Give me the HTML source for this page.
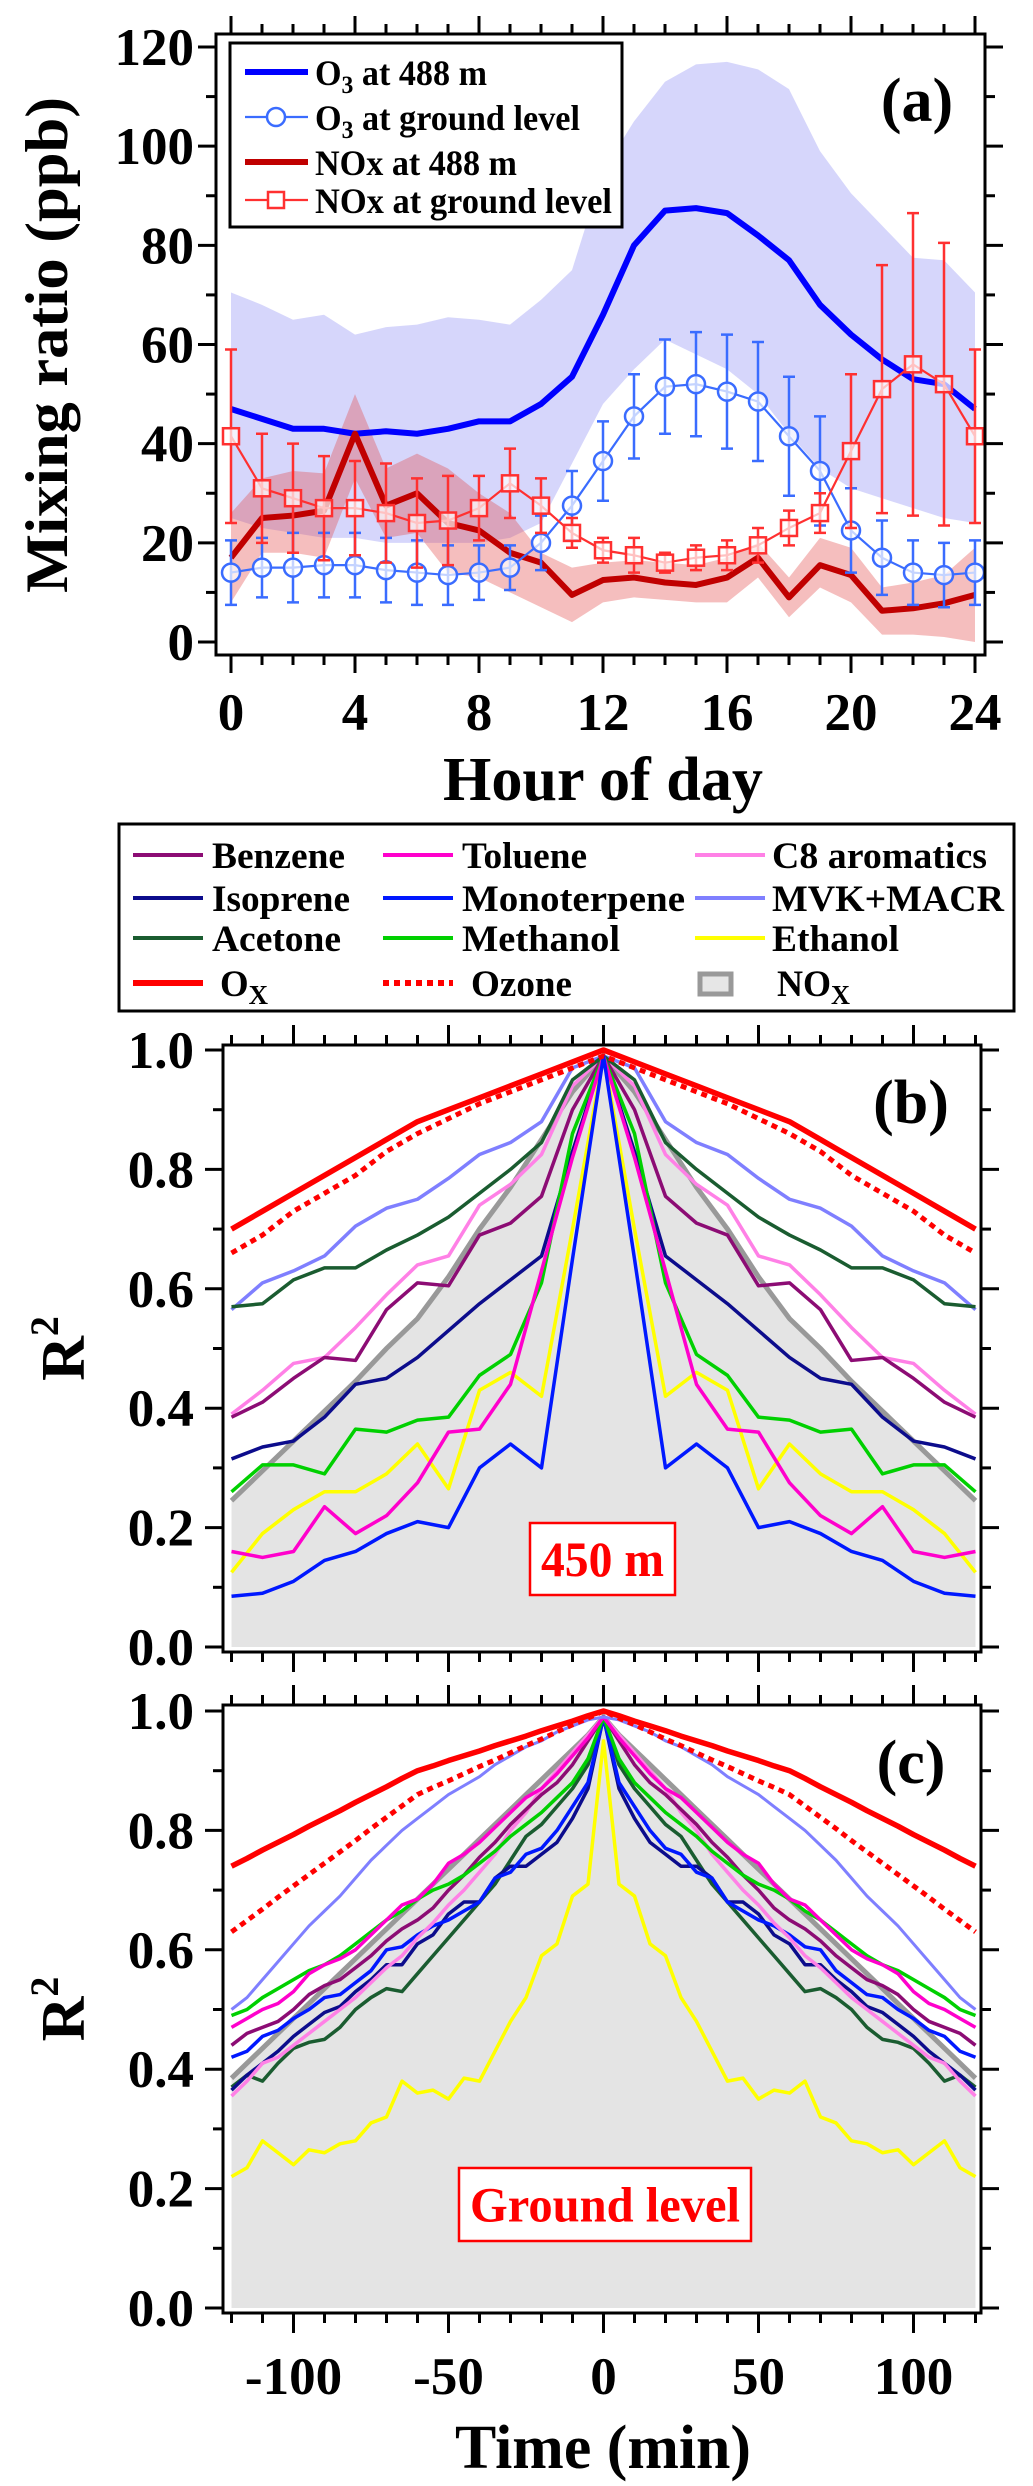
<!DOCTYPE html>
<html><head><meta charset="utf-8"><style>
html,body{margin:0;padding:0;background:#fff;}
svg{display:block;font-family:"Liberation Serif",serif;font-weight:bold;}
</style></head><body>
<svg id="fig" width="1033" height="2486" viewBox="0 0 1033 2486" xmlns="http://www.w3.org/2000/svg">
<g id="pa"></g>
<g id="lgb"></g>
<g id="pb"></g>
<g id="pc"></g>
</svg>
<script>
// ---------- Panel (a) data ----------
const hours = [0,1,2,3,4,5,6,7,8,9,10,11,12,13,14,15,16,17,18,19,20,21,22,23,24];
const o3High = [47,45,43,43,42,42.5,42,43,44.5,44.5,48,53.5,66,80,87,87.5,86.5,82,77,68,62,57,53,52,47];
const o3HighUpper = [70.5,68,65,66,62,63.5,64,65.5,65,64,69,75,95,105,113,116.5,117,115.5,111.5,99,90.5,84,77.5,77,70.5];
const o3HighLower = [25,23,22,21,21,20,20,20,20,21,24,36,48,55,61,58,55,50,42,35,31,29,27,25,24];
const o3Ground = [14,15,15,15.5,15.5,14.5,14,13.5,14,15,20,27.5,36.5,45.5,51.5,52,50.5,48.5,41.5,34.5,22.5,17,14,13.5,14];
const o3GroundErr = [6.5,6,7,6.5,6.5,6.5,6.5,6,5.5,4.5,5.5,7,8,8.5,9.5,10.5,11.5,12,12,11,8.5,7.5,6.5,6.5,6.5];
const noxHigh = [17,25,25.5,26.5,42,27.5,30,24,22.5,18,16,9.5,12.5,13,12,11.5,13,17,9,15.5,13.5,6.3,6.8,7.8,9.5];
const noxHighUpper = [26,33,34.5,34,50,35,38,35,30,26,18,15,16,16.5,16,15.5,17,20,13,21,19,11,12,13.5,19];
const noxHighLower = [8,18,18,17,33,21,22,14,13,10,7,4,8,9,8.5,8,8,13,5,11,8,1.5,1.5,1,0];
const noxGround = [41.5,31,29,27,27,26,24,24.5,27,32,27.5,22,18.5,17.5,16,17,17.5,19.5,23,26,38.5,51,56,52,41.5];
const noxGroundErr = [17.5,11,11,10.5,9.5,10,9,9,6.5,7,5.5,3,2.5,3.5,2,2.5,3,3.5,3.5,4,15.5,25,30.5,28.5,17.5];
const aYTicks = [0,20,40,60,80,100,120];
const aXTicks = [0,4,8,12,16,20,24];

// ---------- Panel (b) data: lags -120..0 (10 min), mirrored ----------
const lagB = [-120,-110,-100,-90,-80,-70,-60,-50,-40,-30,-20,-10,0];
const bOx = [.70,.73,.76,.79,.82,.85,.88,.90,.92,.94,.96,.98,1.0];
const bOzone = [.66,.69,.73,.76,.79,.83,.86,.885,.91,.93,.95,.97,.99];
const bMVK = [.565,.61,.63,.655,.705,.735,.75,.785,.825,.845,.88,.97,.99];
const bAcetone = [.57,.575,.615,.635,.635,.665,.69,.72,.76,.80,.845,.95,.99];
const bC8 = [.39,.43,.475,.485,.535,.59,.64,.655,.74,.775,.825,.94,.99];
const bBenzene = [.385,.41,.45,.485,.48,.565,.61,.605,.69,.71,.755,.90,.99];
const bNOx = [.245,.295,.345,.395,.445,.50,.55,.62,.70,.77,.85,.93,.99];
const bIsoprene = [.315,.335,.345,.385,.44,.45,.485,.53,.575,.615,.655,.83,.99];
const bMethanol = [.26,.305,.305,.29,.365,.36,.38,.385,.455,.49,.61,.86,.99];
const bEthanol = [.125,.19,.23,.26,.26,.29,.34,.265,.43,.46,.42,.70,.99];
const bToluene = [.16,.15,.16,.235,.19,.22,.275,.36,.365,.44,.63,.82,.99];
const bMonoterpene = [.085,.09,.11,.145,.16,.19,.21,.20,.30,.34,.30,.65,.99];

// ---------- Panel (c) data: lags -120..0 (5 min), mirrored ----------
const lagC = [-120,-115,-110,-105,-100,-95,-90,-85,-80,-75,-70,-65,-60,-55,-50,-45,-40,-35,-30,-25,-20,-15,-10,-5,0];
const cOx = [.74,.753,.767,.78,.793,.807,.82,.833,.847,.86,.873,.887,.90,.908,.917,.925,.933,.942,.95,.958,.967,.975,.983,.992,1.0];
const cOzone = [.63,.649,.668,.688,.707,.726,.745,.764,.783,.803,.822,.841,.86,.872,.883,.895,.907,.918,.93,.942,.953,.965,.977,.988,1.0];
const cMVK = [.50,.52,.55,.58,.61,.64,.665,.69,.72,.75,.775,.80,.82,.84,.86,.875,.89,.91,.925,.94,.95,.965,.975,.985,.99];
const cToluene = [.47,.485,.50,.51,.53,.56,.575,.585,.60,.625,.65,.675,.685,.71,.745,.76,.78,.805,.83,.855,.87,.895,.925,.955,.99];
const cMethanol = [.49,.50,.52,.535,.55,.565,.575,.59,.61,.63,.65,.665,.685,.70,.71,.725,.745,.765,.79,.81,.83,.855,.88,.92,.99];
const cNOx = [.385,.41,.435,.46,.485,.51,.535,.56,.585,.61,.635,.66,.685,.71,.735,.76,.785,.81,.835,.86,.885,.91,.935,.96,.99];
const cBenzene = [.44,.46,.47,.48,.50,.525,.54,.55,.57,.59,.615,.635,.65,.67,.70,.725,.755,.78,.81,.835,.86,.88,.91,.95,.99];
const cMonoterpene = [.42,.43,.455,.465,.485,.50,.52,.525,.545,.565,.60,.605,.625,.64,.65,.665,.68,.72,.73,.76,.77,.80,.84,.88,.99];
const cC8 = [.355,.38,.41,.42,.44,.46,.48,.50,.52,.545,.57,.59,.62,.645,.675,.70,.73,.76,.80,.83,.87,.90,.93,.96,.99];
const cIsoprene = [.365,.39,.41,.43,.455,.475,.495,.505,.53,.55,.575,.575,.61,.625,.66,.68,.68,.72,.74,.74,.76,.78,.82,.87,.99];
const cAcetone = [.37,.39,.38,.41,.435,.445,.45,.47,.50,.52,.535,.53,.56,.59,.62,.65,.68,.71,.75,.79,.81,.84,.87,.91,.99];
const cEthanol = [.22,.235,.28,.26,.24,.265,.26,.275,.28,.31,.32,.38,.36,.365,.35,.385,.38,.43,.48,.52,.59,.61,.69,.71,.95];
const rTicks = [0,0.2,0.4,0.6,0.8,1.0];
const tTicks = [-100,-50,0,50,100];

const NS = "http://www.w3.org/2000/svg";
function mk(parent, tag, attrs, text){
  const e = document.createElementNS(NS, tag);
  for (const k in attrs) e.setAttribute(k, attrs[k]);
  if (text !== undefined) e.textContent = text;
  parent.appendChild(e);
  return e;
}
function fit(el, w){ el.setAttribute('textLength', w); el.setAttribute('lengthAdjust','spacingAndGlyphs'); }
const COL = {ox:"#ff0000", mvk:"#7f7fff", acetone:"#1a5c30", c8:"#ff80e6", benzene:"#8c0c74", nox:"#999999",
  isoprene:"#0c0c8c", methanol:"#00d000", ethanol:"#ffff00", toluene:"#ff00cc", mono:"#0018ff"};

// ---------- Panel (a) ----------
(function(){
  const g = document.getElementById('pa');
  const L=216, R=985, T=34, B=655;
  const xa = h => 231 + h*31;
  const ya = v => 642 - v*(595/120);
  const bandPath = (up, lo) => {
    let d = "M" + hours.map((h,i)=>xa(h)+","+ya(up[i])).join(" L");
    d += " L" + hours.slice().reverse().map((h,j)=>{const i=hours.length-1-j; return xa(h)+","+ya(lo[i]);}).join(" L") + " Z";
    return d;
  };
  const linePts = arr => hours.map((h,i)=>xa(h)+","+ya(arr[i])).join(" ");
  let e;
  e = mk(g,'path',{d:bandPath(o3HighUpper,o3HighLower),fill:"rgb(140,140,245)","fill-opacity":"0.36",stroke:"none"});
  
  
  e = mk(g,'path',{d:bandPath(noxHighUpper,noxHighLower),fill:"rgb(225,70,70)","fill-opacity":"0.35",stroke:"none"});
  
  
  e = mk(g,'polyline',{points:linePts(o3High),fill:"none",stroke:"#0000ff","stroke-width":6,"stroke-linejoin":"round"});
  
  
  e = mk(g,'polyline',{points:linePts(noxHigh),fill:"none",stroke:"#c00000","stroke-width":6,"stroke-linejoin":"round"});
  
  
  const gb = mk(g,'g',{});
  
  
  mk(gb,'polyline',{points:linePts(o3Ground),fill:"none",stroke:"#3a6cff","stroke-width":2.2});
  hours.forEach((h,i)=>{
    const x=xa(h), y1=ya(o3Ground[i]+o3GroundErr[i]), y2=ya(o3Ground[i]-o3GroundErr[i]);
    mk(gb,'path',{d:`M${x},${y1}V${y2}M${x-6},${y1}H${x+6}M${x-6},${y2}H${x+6}`,stroke:"#3a6cff","stroke-width":2.5,fill:"none"});
  });
  hours.forEach((h,i)=>{
    const c = mk(gb,'circle',{cx:xa(h),cy:ya(o3Ground[i]),r:9,fill:"#fff","fill-opacity":"0.7",stroke:"#3a6cff","stroke-width":2.5});
    
    
  });
  const rb = mk(g,'g',{});
  
  
  mk(rb,'polyline',{points:linePts(noxGround),fill:"none",stroke:"#ff3030","stroke-width":2.2});
  hours.forEach((h,i)=>{
    const x=xa(h), y1=ya(noxGround[i]+noxGroundErr[i]), y2=ya(noxGround[i]-noxGroundErr[i]);
    mk(rb,'path',{d:`M${x},${y1}V${y2}M${x-6},${y1}H${x+6}M${x-6},${y2}H${x+6}`,stroke:"#ff3030","stroke-width":2.5,fill:"none"});
  });
  hours.forEach((h,i)=>{
    const s = mk(rb,'rect',{x:xa(h)-8,y:ya(noxGround[i])-8,width:16,height:16,fill:"#fff","fill-opacity":"0.7",stroke:"#ff3030","stroke-width":2.5});
    
    
  });
  e = mk(g,'rect',{x:L,y:T,width:R-L,height:B-T,fill:"none",stroke:"#000","stroke-width":3});
  
  
  const tk = mk(g,'g',{stroke:"#000","stroke-width":3});
  
  
  for(let v=0; v<=120; v+=10){
    const y=ya(v), len = v%20===0?18:10;
    mk(tk,'line',{x1:L-len,y1:y,x2:L,y2:y});
    mk(tk,'line',{x1:R,y1:y,x2:R+len,y2:y});
  }
  for(let h=0; h<=24; h++){
    const x=xa(h), len = h%4===0?18:10;
    mk(tk,'line',{x1:x,y1:B,x2:x,y2:B+len});
    mk(tk,'line',{x1:x,y1:T-len,x2:x,y2:T});
  }
  aYTicks.forEach(v=>{
    const t = mk(g,'text',{x:194,y:ya(v)+18,"text-anchor":"end","font-size":53},String(v));
    
    
  });
  aXTicks.forEach(h=>{
    const t = mk(g,'text',{x:xa(h),y:730,"text-anchor":"middle","font-size":53},String(h));
    
    
  });
  e = mk(g,'text',{x:603,y:800,"text-anchor":"middle","font-size":62},"Hour of day");
  fit(e,320);
  
  
  e = mk(g,'text',{x:0,y:0,"text-anchor":"middle","font-size":60,transform:"translate(67,345) rotate(-90)"},"Mixing ratio (ppb)");
  fit(e,496);
  
  
  e = mk(g,'text',{x:917,y:121,"text-anchor":"middle","font-size":62},"(a)");
  
  
  const lg = mk(g,'g',{});
  
  
  mk(lg,'rect',{x:230,y:43,width:392,height:184,fill:"#fff",stroke:"#000","stroke-width":3});
  const rows=[72,117,162,200];
  mk(lg,'line',{x1:245,y1:rows[0],x2:308,y2:rows[0],stroke:"#0000ff","stroke-width":6});
  mk(lg,'line',{x1:245,y1:rows[1],x2:308,y2:rows[1],stroke:"#3a6cff","stroke-width":2.2});
  mk(lg,'circle',{cx:276,cy:rows[1],r:9,fill:"#fff",stroke:"#3a6cff","stroke-width":2.5});
  mk(lg,'line',{x1:245,y1:rows[2],x2:308,y2:rows[2],stroke:"#c00000","stroke-width":6});
  mk(lg,'line',{x1:245,y1:rows[3],x2:308,y2:rows[3],stroke:"#ff3030","stroke-width":2.2});
  mk(lg,'rect',{x:268,y:rows[3]-8,width:16,height:16,fill:"#fff",stroke:"#ff3030","stroke-width":2.5});
  const labs = [["O","3"," at 488 m"],["O","3"," at ground level"],["NOx at 488 m"],["NOx at ground level"]];
  const widths = [172,265,202,297];
  labs.forEach((l,i)=>{
    const t = mk(lg,'text',{x:315,y:rows[i]+13,"font-size":36});
    
    
    if(l.length===3){
      mk(t,'tspan',{},l[0]);
      mk(t,'tspan',{"font-size":25,dy:8},l[1]);
      mk(t,'tspan',{dy:-8},l[2]);
    } else t.textContent = l[0];
    fit(t,widths[i]);
  });
})();

// ---------- Legend for (b)/(c) ----------
(function(){
  const g = document.getElementById('lgb');
  mk(g,'rect',{x:119,y:824,width:895,height:187,fill:"#fff",stroke:"#000","stroke-width":3});
  const rows=[855,898,938,983];
  const cols=[[133,203,212],[383,453,462],[695,765,772]];
  const items=[
    ["Benzene",COL.benzene,0,0,133],["Toluene",COL.toluene,1,0,125],["C8 aromatics",COL.c8,2,0,215],
    ["Isoprene",COL.isoprene,0,1,138],["Monoterpene",COL.mono,1,1,223],["MVK+MACR",COL.mvk,2,1,232],
    ["Acetone",COL.acetone,0,2,129],["Methanol",COL.methanol,1,2,158],["Ethanol",COL.ethanol,2,2,127]];
  items.forEach(it=>{
    const c=cols[it[2]], y=rows[it[3]];
    const e=mk(g,'g',{});
    
    
    mk(e,'line',{x1:c[0],y1:y,x2:c[1],y2:y,stroke:it[1],"stroke-width":4});
    const t=mk(e,'text',{x:c[2],y:y+13,"font-size":37},it[0]);
    fit(t,it[4]);
  });
  let e=mk(g,'g',{});
  
  
  mk(e,'line',{x1:133,y1:rows[3],x2:203,y2:rows[3],stroke:"#ff0000","stroke-width":6});
  let t=mk(e,'text',{x:220,y:rows[3]+13,"font-size":37},"O");
  mk(t,'tspan',{"font-size":27,dy:8},"X");
  fit(t,48);
  e=mk(g,'g',{});
  
  
  mk(e,'line',{x1:383,y1:rows[3],x2:453,y2:rows[3],stroke:"#ff0000","stroke-width":6,"stroke-dasharray":"6,5"});
  t=mk(e,'text',{x:471,y:rows[3]+13,"font-size":37},"Ozone");
  fit(t,101);
  e=mk(g,'g',{});
  
  
  mk(e,'rect',{x:700,y:974,width:31,height:20,fill:"#e6e6e6",stroke:"#999","stroke-width":5});
  t=mk(e,'text',{x:777,y:rows[3]+13,"font-size":37},"NO");
  mk(t,'tspan',{"font-size":27,dy:8},"X");
  fit(t,73);
})();

// ---------- Panels (b),(c) ----------
function r2Panel(gid, top, bottom, y0, y1, label, boxLabel, box, series, lags, nox, showXLabels){
  const g=document.getElementById(gid);
  const L=223, R=981;
  const xt = t => 603.5 + t*3.1;
  const yr = v => y0 - v*(y0-y1);
  const mirror = (lg, arr) => {
    const xs = lg.concat(lg.slice(0,-1).reverse().map(v=>-v));
    const vs = arr.concat(arr.slice(0,-1).reverse());
    return xs.map((x,i)=>[xt(x), yr(vs[i])]);
  };
  mk(g,'rect',{x:L,y:top,width:R-L,height:bottom-top,fill:"#fff"});
  const np = mirror(lags, nox);
  let d = "M"+np[0][0]+","+yr(0)+" L"+np.map(p=>p[0]+","+p[1]).join(" L")+" L"+np[np.length-1][0]+","+yr(0)+" Z";
  let e = mk(g,'path',{d:d,fill:"#e4e4e4",stroke:"none"});
  
  
  e = mk(g,'polyline',{points:np.map(p=>p.join(",")).join(" "),fill:"none",stroke:COL.nox,"stroke-width":5});
  
  
  series.forEach(s=>{
    const pts = mirror(lags, s.data);
    const attrs = {points:pts.map(p=>p.join(",")).join(" "),fill:"none",stroke:s.color,"stroke-width":s.w,"stroke-linejoin":"round"};
    if(s.dash) attrs["stroke-dasharray"]=s.dash;
    const pl = mk(g,'polyline',attrs);
    
    
  });
  e = mk(g,'rect',{x:L,y:top,width:R-L,height:bottom-top,fill:"none",stroke:"#000","stroke-width":3});
  
  
  const tk = mk(g,'g',{stroke:"#000","stroke-width":3});
  
  
  for(let i=0;i<=10;i++){
    const v=i/10, y=yr(v), len = i%2===0?18:10;
    mk(tk,'line',{x1:L-len,y1:y,x2:L,y2:y});
    mk(tk,'line',{x1:R,y1:y,x2:R+len,y2:y});
  }
  for(let t=-120;t<=120;t+=10){
    const x=xt(t), len = t%50===0?20:10;
    mk(tk,'line',{x1:x,y1:bottom,x2:x,y2:bottom+len});
    mk(tk,'line',{x1:x,y1:top-len,x2:x,y2:top});
  }
  rTicks.forEach(v=>{
    const t=mk(g,'text',{x:194,y:yr(v)+18,"text-anchor":"end","font-size":53},v.toFixed(1));
    
    
  });
  if(showXLabels){
    tTicks.forEach(v=>{
      const t=mk(g,'text',{x:xt(v),y:2394,"text-anchor":"middle","font-size":53},String(v));
      
      
    });
  }
  e = mk(g,'text',{x:0,y:0,"text-anchor":"middle","font-size":62,transform:`translate(84,${(top+bottom)/2}) rotate(-90)`});
  
  
  mk(e,'tspan',{},"R");
  mk(e,'tspan',{"font-size":40,dy:-26},"2");
  e = mk(g,'text',{x:911,y:top+78,"text-anchor":"middle","font-size":62},label);
  
  
  const bx = mk(g,'g',{});
  
  
  mk(bx,'rect',{x:box[0],y:box[1],width:box[2],height:box[3],fill:"#fff",stroke:"#ff0000","stroke-width":2.5});
  const bt = mk(bx,'text',{x:box[0]+box[2]/2,y:box[1]+box[3]/2+17,"text-anchor":"middle","font-size":50,fill:"#ff0000"},boxLabel);
  fit(bt, box[2]-22);
}
r2Panel('pb',1045,1652,1647,1050,"(b)","450 m",[530,1523,145,72],[
  {name:"c8",data:bC8,color:COL.c8,w:3.5},
  {name:"benzene",data:bBenzene,color:COL.benzene,w:3.5},
  {name:"mvk-macr",data:bMVK,color:COL.mvk,w:3.5},
  {name:"acetone",data:bAcetone,color:COL.acetone,w:3.5},
  {name:"isoprene",data:bIsoprene,color:COL.isoprene,w:3.5},
  {name:"methanol",data:bMethanol,color:COL.methanol,w:3.5},
  {name:"ethanol",data:bEthanol,color:COL.ethanol,w:3.5},
  {name:"toluene",data:bToluene,color:COL.toluene,w:3.5},
  {name:"monoterpene",data:bMonoterpene,color:COL.mono,w:3.5},
  {name:"ozone",data:bOzone,color:COL.ox,w:5,dash:"6,5"},
  {name:"ox",data:bOx,color:COL.ox,w:5.5}
], lagB, bNOx, false);
r2Panel('pc',1705,2313,2308,1711,"(c)","Ground level",[459,2168,292,73],[
  {name:"ethanol",data:cEthanol,color:COL.ethanol,w:3.5},
  {name:"acetone",data:cAcetone,color:COL.acetone,w:3.5},
  {name:"isoprene",data:cIsoprene,color:COL.isoprene,w:3.5},
  {name:"monoterpene",data:cMonoterpene,color:COL.mono,w:3.5},
  {name:"c8",data:cC8,color:COL.c8,w:3.5},
  {name:"benzene",data:cBenzene,color:COL.benzene,w:3.5},
  {name:"methanol",data:cMethanol,color:COL.methanol,w:3.5},
  {name:"toluene",data:cToluene,color:COL.toluene,w:3.5},
  {name:"mvk-macr",data:cMVK,color:COL.mvk,w:3},
  {name:"ozone",data:cOzone,color:COL.ox,w:5,dash:"6,5"},
  {name:"ox",data:cOx,color:COL.ox,w:5.5}
], lagC, cNOx, true);
(function(){
  const g=document.getElementById('pc');
  const e=mk(g,'text',{x:603,y:2468,"text-anchor":"middle","font-size":62},"Time (min)");
  fit(e,296);
  
  
})();
</script>
</body></html>
